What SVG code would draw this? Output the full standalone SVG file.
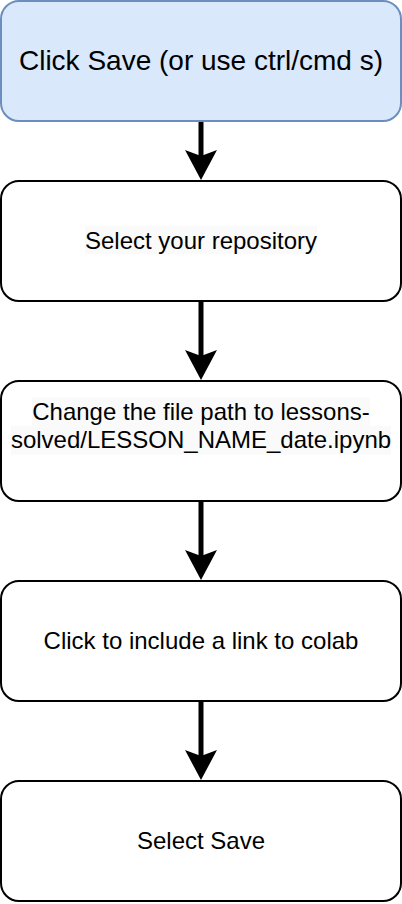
<svg xmlns="http://www.w3.org/2000/svg" width="402" height="904" viewBox="0 0 402 904">
  <style>
    .box { fill: #ffffff; stroke: #000000; stroke-width: 2; }
    .blue { fill: #dae8fc; stroke: #6c8ebf; stroke-width: 2; }
    .lbl { font-family: "Liberation Sans", Arial, sans-serif; font-size: 24px; fill: #000000; text-anchor: middle; }
    .big { font-size: 28px; }
    .hl { fill: #fafafa; }
    .edge { stroke: #000000; stroke-width: 5; fill: none; }
  </style>
  <defs>
    <marker id="arrow" markerUnits="userSpaceOnUse" markerWidth="32" markerHeight="32" refX="6" refY="16" orient="auto">
      <path d="M0,0 L30,16 L0,32 L6,16 Z" fill="#000000"/>
    </marker>
  </defs>
  <rect width="402" height="904" fill="#ffffff"/>
  <g id="connectors">
    <line class="edge" x1="201" y1="121" x2="201" y2="156" marker-end="url(#arrow)"/>
    <line class="edge" x1="201" y1="301" x2="201" y2="356" marker-end="url(#arrow)"/>
    <line class="edge" x1="201" y1="501" x2="201" y2="556" marker-end="url(#arrow)"/>
    <line class="edge" x1="201" y1="701" x2="201" y2="756" marker-end="url(#arrow)"/>
  </g>
  <g id="node1">
    <rect class="blue" x="1" y="1" width="400" height="120" rx="18" ry="18"/>
    <text class="lbl big" x="201" y="70.2">Click Save (or use ctrl/cmd s)</text>
  </g>
  <g id="node2">
    <rect class="box" x="1" y="181" width="400" height="120" rx="18" ry="18"/>
    <rect class="hl" x="85" y="226" width="232" height="28"/>
    <text class="lbl" x="201" y="248.5">Select your repository</text>
  </g>
  <g id="node3">
    <rect class="box" x="1" y="381" width="400" height="120" rx="18" ry="18"/>
    <rect class="hl" x="32" y="397.5" width="338" height="28.5"/>
    <rect class="hl" x="11" y="426" width="380" height="28.5"/>
    <text class="lbl" x="201" y="419.8">Change the file path to lessons-</text>
    <text class="lbl" x="201" y="448.4">solved/LESSON_NAME_date.ipynb</text>
  </g>
  <g id="node4">
    <rect class="box" x="1" y="581" width="400" height="120" rx="18" ry="18"/>
    <text class="lbl" x="201" y="648.5">Click to include a link to colab</text>
  </g>
  <g id="node5">
    <rect class="box" x="1" y="781" width="400" height="120" rx="18" ry="18"/>
    <text class="lbl" x="201" y="848.5">Select Save</text>
  </g>
</svg>
